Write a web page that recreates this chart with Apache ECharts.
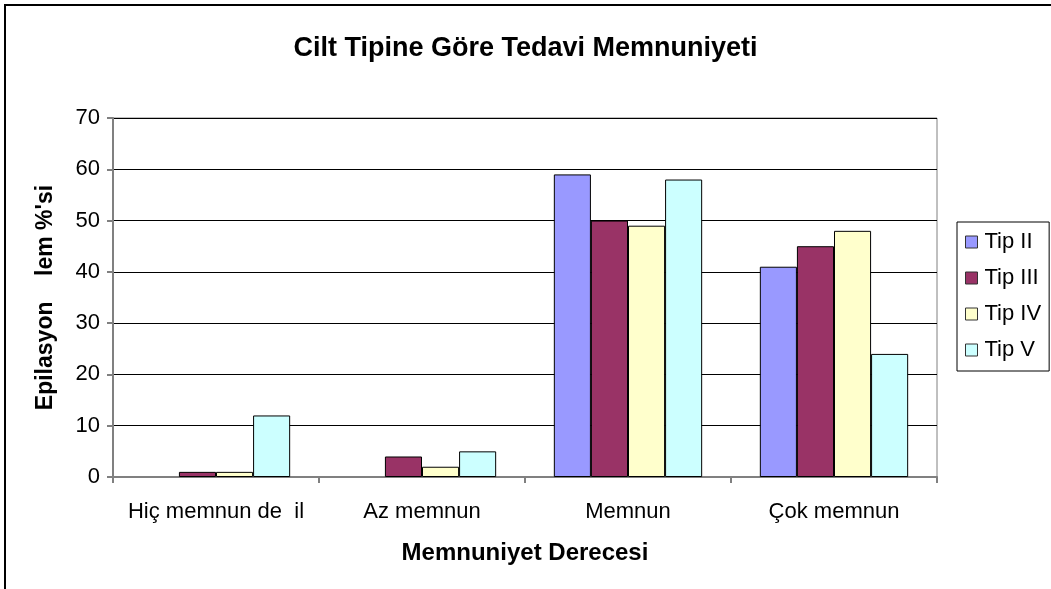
<!DOCTYPE html>
<html>
<head>
<meta charset="utf-8">
<script src="https://cdn.jsdelivr.net/npm/echarts@6/dist/echarts.min.js"></script>
<style>html,body{margin:0;padding:0;background:#fff;}#c{width:1051px;height:589px;}</style>
</head>
<body>
<div id="c"></div>
<script>
var categories = ["Hiç memnun de  il", "Az memnun", "Memnun", "Çok memnun"];
var seriesNames = ["Tip II", "Tip III", "Tip IV", "Tip V"];
var tipII = [0, 0, 59, 41];
var tipIII = [1, 4, 50, 45];
var tipIV = [1, 2, 49, 48];
var tipV = [12, 5, 58, 24];
var colors = ["#9999FF", "#993366", "#FFFFCC", "#CCFFFF"];
var yTicks = [0, 10, 20, 30, 40, 50, 60, 70];

var dataSets = [tipII, tipIII, tipIV, tipV];
var font = "'Liberation Sans', Arial, sans-serif";
var chart = echarts.init(document.getElementById('c'));
chart.setOption({
  animation: false,
  backgroundColor: '#fff',
  title: {
    text: 'Cilt Tipine Göre Tedavi Memnuniyeti',
    left: 'center', top: 30,
    textStyle: {fontFamily: font, fontSize: 27, fontWeight: 'bold', color: '#000'}
  },
  graphic: [{
    type: 'polyline',
    shape: {points: [[5, 600], [5, 5], [1060, 5]]},
    style: {stroke: '#000', lineWidth: 2, fill: null}
  }],
  legend: {
    orient: 'vertical', left: 957, top: 222,
    itemWidth: 12, itemHeight: 12, itemGap: 14,
    padding: [9, 8, 10, 8],
    borderColor: '#000', borderWidth: 1,
    icon: 'rect',
    itemStyle: {borderColor: '#333', borderWidth: 1},
    textStyle: {fontFamily: font, fontSize: 22, color: '#000', padding: [0, 0, 0, 2]},
    data: seriesNames
  },
  grid: {left: 113, right: 114, top: 118, bottom: 112, show: true, borderColor: '#808080', borderWidth: 1},
  xAxis: {
    type: 'category', data: categories,
    name: 'Memnuniyet Derecesi', nameLocation: 'middle', nameGap: 64,
    nameTextStyle: {fontFamily: font, fontSize: 24, fontWeight: 'bold', color: '#000'},
    axisLine: {lineStyle: {color: '#808080', width: 2}},
    axisTick: {show: true, interval: 0, length: 6, lineStyle: {color: '#808080', width: 2}},
    axisLabel: {fontFamily: font, fontSize: 22, color: '#000', margin: 24, interval: 0, hideOverlap: false}
  },
  yAxis: {
    type: 'value', min: 0, max: 70, interval: 10,
    name: 'Epilasyon    lem %\'si', nameLocation: 'middle', nameGap: 56,
    nameTextStyle: {fontFamily: font, fontSize: 23, fontWeight: 'bold', color: '#000'},
    axisLine: {show: true, lineStyle: {color: '#808080', width: 2}},
    axisTick: {show: true, length: 6, lineStyle: {color: '#808080', width: 2}},
    axisLabel: {fontFamily: font, fontSize: 22, color: '#000', margin: 13,
      formatter: function (v) { return yTicks.indexOf(v) >= 0 ? String(v) : ''; }},
    splitLine: {lineStyle: {color: '#000', width: 1}}
  },
  series: seriesNames.map(function (n, i) {
    return {
      name: n, type: 'bar',
      data: dataSets[i].map(function (v) {
        return v === 0 ? {value: v, itemStyle: {borderWidth: 0}} : v;
      }),
      barGap: '0%', barCategoryGap: '28%',
      itemStyle: {color: colors[i], borderColor: '#000', borderWidth: 1}
    };
  })
});
</script>
</body>
</html>
